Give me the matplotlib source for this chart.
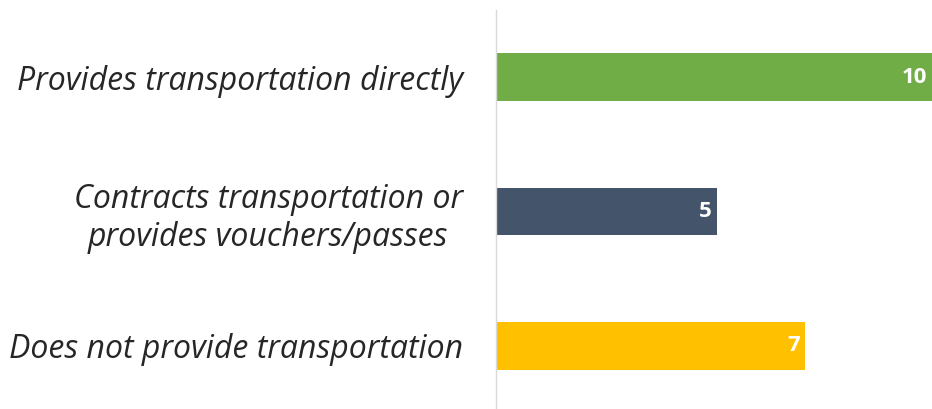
import matplotlib
matplotlib.use("Agg")
import matplotlib.pyplot as plt
from matplotlib.transforms import offset_copy

categories = ["Provides transportation directly",
              "Contracts transportation or\nprovides vouchers/passes",
              "Does not provide transportation"]
values = [10, 5, 7]
colors = ["#70AD47", "#44546A", "#FFC000"]

fig = plt.figure(figsize=(9.32, 4.09), dpi=100)
ax = fig.add_axes([496 / 932, 0, 1 - 496 / 932, 399 / 409])

pos = list(range(len(categories)))
ax.barh(pos, values, height=0.357, color=colors, clip_on=True)
ax.set_xlim(0, 9.87)
ax.set_ylim(2.47, -0.5)

for s in ["top", "right", "bottom"]:
    ax.spines[s].set_visible(False)
ax.spines["left"].set_color("#D9D9D9")
ax.spines["left"].set_linewidth(1)
ax.set_xticks([])
ax.set_yticks(pos)
ax.set_yticklabels(categories, fontsize=23, fontstyle="italic",
                   family="Open Sans", color="#262626", linespacing=1.2)
ax.tick_params(axis="y", length=0, pad=24)
for lbl in ax.get_yticklabels():
    lbl.set_horizontalalignment("right")
    lbl.set_multialignment("center")

trans = offset_copy(ax.transData, fig=fig, x=-5, y=0, units="dots")
for p, v in zip(pos, values):
    ax.text(min(v, 9.87), p, str(v), transform=trans, ha="right", va="center",
            color="white", fontsize=16, fontweight="bold", family="Open Sans")

fig.savefig("out.png", dpi=100)
